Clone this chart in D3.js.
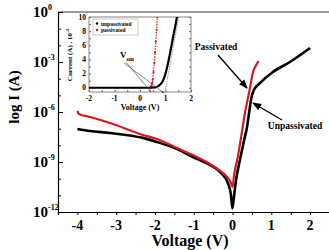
<!DOCTYPE html>
<html>
<head>
<meta charset="utf-8">
<script src="https://cdn.jsdelivr.net/npm/d3@7"></script>
<style>
  body { margin: 0; background: #fff; }
  svg { display: block; font-family: "Liberation Serif", "Times New Roman", serif; font-weight: bold; }
</style>
</head>
<body>
<div id="chart"></div>
<script>
// main plot: log I vs voltage
var unpassV = [-4.0, -3.67, -3.16, -2.31, -1.95, -1.43, -1.02, -0.58, -0.32, -0.12, -0.04, -0.005,
               0.026, 0.09, 0.19, 0.30, 0.37, 0.43, 0.48, 0.55, 0.71, 1.04, 1.48, 2.0];
var unpassI = [9.5e-8, 7.2e-8, 5.5e-8, 2.8e-8, 1.6e-8, 6e-9, 2e-9, 6.6e-10, 2.5e-10, 5.5e-11, 1.05e-11, 1.7e-12,
               5e-12, 8.3e-11, 1.3e-9, 2.1e-8, 1.1e-7, 1e-6, 6e-6, 2.1e-5, 5.5e-5, 2.5e-4, 1e-3, 6.9e-3];
var passV = [-4.0, -3.96, -3.67, -3.16, -2.31, -1.95, -1.43, -1.02, -0.58, -0.32, -0.12, -0.04, 0,
             0.04, 0.12, 0.22, 0.32, 0.43, 0.53, 0.61, 0.67];
var passI = [1.15e-6, 7.6e-7, 5e-7, 2.2e-7, 4.2e-8, 2.4e-8, 6.9e-9, 2.6e-9, 7.6e-10, 2.9e-10, 1.1e-10, 5.5e-11, 3.2e-11,
             1.7e-10, 1.3e-9, 3e-8, 8.7e-7, 1.6e-5, 2.5e-4, 6.6e-4, 1.15e-3];
var xTicks = [-4, -3, -2, -1, 0, 1, 2];
var yTicks = [1e0, 1e-3, 1e-6, 1e-9, 1e-12];
var yExp = ["0", "-3", "-6", "-9", "-12"];

// inset: linear current (x 10^-4 A)
var insetUnpassV = [-2, -1.5, -1, -0.5, 0, 0.3, 0.6, 0.7, 0.8, 0.9, 1.0, 1.1, 1.2, 1.3, 1.4, 1.45];
var insetUnpassI = [0, 0, 0, 0, 0, 0, 0.05, 0.2, 0.5, 1.0, 2.0, 3.5, 5.3, 7.2, 9.0, 10];
var insetPassV = [-2, -1.5, -1, -0.5, 0, 0.2, 0.35, 0.42, 0.45, 0.48, 0.5, 0.53, 0.56, 0.59, 0.62, 0.65, 0.68];
var insetPassI = [0, 0, 0, 0, 0, 0, 0, 0.05, 0.3, 0.7, 1.2, 2.2, 3.5, 5.0, 6.5, 8.2, 10];
var insetXTicks = [-2, -1, 0, 1, 2];
var insetYTicks = [0, 2, 4, 6, 8, 10];

var width = 329, height = 250;
var svg = d3.select("#chart").append("svg")
    .attr("width", width)
    .attr("height", height);

var defs = svg.append("defs");
defs.append("marker")
    .attr("id", "arrow")
    .attr("viewBox", "0 0 10 10")
    .attr("refX", 9).attr("refY", 5)
    .attr("markerWidth", 7).attr("markerHeight", 7)
    .attr("orient", "auto")
  .append("path").attr("d", "M0,1 L10,5 L0,9 z").style("fill", "black");
defs.append("marker")
    .attr("id", "arrowThin")
    .attr("viewBox", "0 0 10 10")
    .attr("refX", 9).attr("refY", 5)
    .attr("markerWidth", 5).attr("markerHeight", 5)
    .attr("orient", "auto")
  .append("path").attr("d", "M0,2 L10,5 L0,8 z").style("fill", "#333");

var x = d3.scaleLinear().domain([-4.5, 2.5]).range([58, 329.5]);
var y = d3.scaleLog().domain([1e-12, 1]).range([212, 12]);

// frame
svg.append("line")
    .attr("x1", 58).attr("x2", width).attr("y1", 12).attr("y2", 12)
    .style("stroke", "#999").style("stroke-width", 2);

var xAxis = svg.append("g")
    .attr("transform", "translate(0,212)")
    .call(d3.axisBottom(x).tickValues(d3.range(-4, 2.6, 0.5)).tickSize(3).tickFormat(""));
xAxis.select(".domain").style("stroke-width", 1.2);

svg.selectAll("text.xlab")
    .data(xTicks)
    .enter().append("text")
      .attr("class", "xlab")
      .attr("x", function(d) { return x(d); })
      .attr("y", 230)
      .attr("text-anchor", "middle")
      .style("font-size", "14px")
      .text(function(d) { return d; });

var yMinor = d3.range(0, 13).map(function(e) { return Math.pow(10, -e); });
var yAxis = svg.append("g")
    .attr("transform", "translate(58,0)")
    .call(d3.axisRight(y).tickValues(yMinor).tickSize(3).tickFormat(""));
yAxis.select(".domain").style("stroke-width", 1.2);
yAxis.selectAll(".tick line")
    .attr("x2", function(d) { return yTicks.indexOf(d) >= 0 ? 5 : 3; });

svg.selectAll("text.ylab")
    .data(yTicks)
    .enter().append("text")
      .attr("class", "ylab")
      .attr("x", 48)
      .attr("y", function(d) { return y(d) + 5; })
      .attr("text-anchor", "end")
      .style("font-size", "15px")
      .text("10");
svg.selectAll("text.yexp")
    .data(yTicks)
    .enter().append("text")
      .attr("class", "yexp")
      .attr("x", 48)
      .attr("y", function(d) { return y(d) - 2; })
      .style("font-size", "8px")
      .text(function(d, i) { return yExp[i]; });

svg.append("text")
    .attr("x", 190).attr("y", 245.5)
    .attr("text-anchor", "middle")
    .style("font-size", "16px")
    .text("Voltage (V)");

svg.append("text")
    .attr("transform", "translate(19,97) rotate(-90)")
    .attr("text-anchor", "middle")
    .style("font-size", "15px")
    .text("log I (A)");

// curves
var line = d3.line()
    .x(function(d) { return x(d[0]); })
    .y(function(d) { return y(d[1]); })
    .curve(d3.curveMonotoneX);

svg.append("path")
    .datum(d3.zip(unpassV, unpassI))
    .attr("d", line)
    .style("fill", "none").style("stroke", "black").style("stroke-width", 2.6);
svg.append("path")
    .datum(d3.zip(passV, passI))
    .attr("d", line)
    .style("fill", "none").style("stroke", "#e0151b").style("stroke-width", 2.2);

// annotations
svg.append("text").attr("x", 216).attr("y", 50).attr("text-anchor", "middle")
    .style("font-size", "9.5px").text("Passivated");
svg.append("line")
    .attr("x1", 218).attr("y1", 55).attr("x2", 247).attr("y2", 88)
    .attr("marker-end", "url(#arrow)")
    .style("stroke", "black").style("stroke-width", 1.3);

svg.append("text").attr("x", 295).attr("y", 129).attr("text-anchor", "middle")
    .style("font-size", "9.5px").text("Unpassivated");
svg.append("line")
    .attr("x1", 282).attr("y1", 120).attr("x2", 253).attr("y2", 103)
    .attr("marker-end", "url(#arrow)")
    .style("stroke", "black").style("stroke-width", 1.3);

// inset
var ix = d3.scaleLinear().domain([-2, 2]).range([89, 191]);
var iy = d3.scaleLinear().domain([-0.6, 10]).range([92, 17]);
var inset = svg.append("g").attr("class", "inset");

inset.append("rect")
    .attr("x", 89).attr("y", 17).attr("width", 102).attr("height", 75)
    .style("fill", "white").style("stroke", "#666").style("stroke-width", 0.8);

inset.append("defs").append("clipPath").attr("id", "iclip")
  .append("rect").attr("x", 89).attr("y", 17).attr("width", 102).attr("height", 75);

inset.append("g")
    .attr("transform", "translate(0,92)")
    .call(d3.axisTop(ix).tickValues(d3.range(-2, 2.1, 0.5)).tickSize(2).tickFormat(""))
    .call(function(g) { g.select(".domain").remove(); });
inset.append("g")
    .attr("transform", "translate(89,0)")
    .call(d3.axisRight(iy).tickValues(d3.range(0, 10.1, 1)).tickSize(2).tickFormat(""))
    .call(function(g) { g.select(".domain").remove(); });
inset.append("g")
    .attr("transform", "translate(191,0)")
    .call(d3.axisLeft(iy).tickValues(d3.range(0, 10.1, 1)).tickSize(2).tickFormat(""))
    .call(function(g) { g.select(".domain").remove(); });
inset.selectAll(".tick line").style("stroke", "#666");

inset.selectAll("text.ixlab")
    .data(insetXTicks)
    .enter().append("text")
      .attr("class", "ixlab")
      .attr("x", function(d) { return ix(d); })
      .attr("y", 101)
      .attr("text-anchor", "middle")
      .style("font-size", "7.5px")
      .text(function(d) { return d; });
inset.selectAll("text.iylab")
    .data(insetYTicks)
    .enter().append("text")
      .attr("class", "iylab")
      .attr("x", 86)
      .attr("y", function(d) { return iy(d) + 2.5; })
      .attr("text-anchor", "end")
      .style("font-size", "7.5px")
      .text(function(d) { return d; });

inset.append("text")
    .attr("x", 140).attr("y", 110)
    .attr("text-anchor", "middle")
    .style("font-size", "8px")
    .text("Voltage (V)");
var iyl = inset.append("text")
    .attr("transform", "translate(72,55) rotate(-90)")
    .attr("text-anchor", "middle")
    .style("font-size", "7px");
iyl.append("tspan").text("Current (A) . 10");
iyl.append("tspan").attr("dy", -3).style("font-size", "5px").text("-4");

var iline = d3.line()
    .x(function(d) { return ix(d[0]); })
    .y(function(d) { return iy(d[1]); });

var ip = inset.append("g").attr("clip-path", "url(#iclip)");

// tangent line used for V_on
ip.append("line")
    .attr("x1", ix(1.52)).attr("y1", iy(10)).attr("x2", ix(0.98)).attr("y2", iy(-0.6))
    .style("stroke", "#555").style("stroke-width", 0.6).style("stroke-dasharray", "1.5,1");

ip.append("path")
    .datum(d3.zip(insetPassV, insetPassI))
    .attr("d", iline)
    .style("fill", "none").style("stroke", "#e0151b").style("stroke-width", 1.2)
    .style("stroke-dasharray", "1.5,1.2");
ip.selectAll("circle.ipass")
    .data(d3.zip(insetPassV, insetPassI).filter(function(d) { return d[1] > 0; }))
    .enter().append("circle")
      .attr("class", "ipass")
      .attr("cx", function(d) { return ix(d[0]); })
      .attr("cy", function(d) { return iy(d[1]); })
      .attr("r", 1.1)
      .style("fill", "#e0151b");

ip.append("path")
    .datum(d3.zip(insetUnpassV, insetUnpassI))
    .attr("d", iline.curve(d3.curveMonotoneX))
    .style("fill", "none").style("stroke", "black").style("stroke-width", 2.2);

// V_on
var von = inset.append("text").attr("x", 120).attr("y", 58).style("font-size", "9px");
von.append("tspan").text("V");
von.append("tspan").attr("dy", 2.5).style("font-size", "7px").text("on");
inset.append("line")
    .attr("x1", 126).attr("y1", 62).attr("x2", 151).attr("y2", 92)
    .attr("marker-end", "url(#arrowThin)")
    .style("stroke", "#333").style("stroke-width", 0.6);
inset.append("line")
    .attr("x1", 124).attr("y1", 63).attr("x2", 164).attr("y2", 93)
    .attr("marker-end", "url(#arrowThin)")
    .style("stroke", "#333").style("stroke-width", 0.6);

// legend
var lg = inset.append("g");
lg.append("rect")
    .attr("x", 93).attr("y", 19).attr("width", 45).attr("height", 16)
    .style("fill", "white").style("stroke", "#999").style("stroke-width", 0.5);
lg.append("circle").attr("cx", 97).attr("cy", 23.5).attr("r", 1.2).style("fill", "black");
lg.append("circle").attr("cx", 97).attr("cy", 30).attr("r", 1.2).style("fill", "#e0151b");
lg.append("text").attr("x", 101).attr("y", 25.5).style("font-size", "5.5px").text("unpassivated");
lg.append("text").attr("x", 101).attr("y", 32).style("font-size", "5.5px").text("passivated");
</script>
</body>
</html>
